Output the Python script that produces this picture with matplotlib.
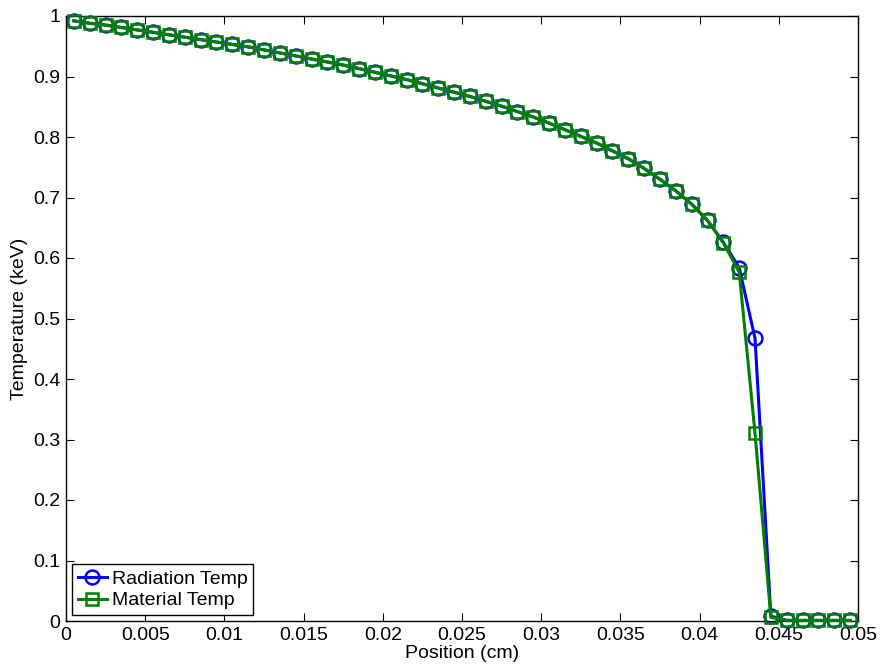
import matplotlib
matplotlib.use("Agg")
import matplotlib.pyplot as plt
import numpy as np

position = [0.0005 + 0.001 * i for i in range(50)]
radiation_temp = [0.992, 0.988, 0.985, 0.981, 0.977, 0.973, 0.969, 0.965, 0.961, 0.957,
                  0.953, 0.949, 0.944, 0.939, 0.934, 0.929, 0.924, 0.919, 0.913, 0.907,
                  0.901, 0.895, 0.888, 0.881, 0.874, 0.867, 0.859, 0.851, 0.842, 0.833,
                  0.823, 0.812, 0.801, 0.790, 0.777, 0.764, 0.748, 0.730, 0.711, 0.689,
                  0.662, 0.626, 0.584, 0.467, 0.008, 0.001, 0.001, 0.001, 0.001, 0.001]
material_temp = [0.992, 0.988, 0.985, 0.981, 0.977, 0.973, 0.969, 0.965, 0.961, 0.957,
                 0.953, 0.949, 0.944, 0.939, 0.934, 0.929, 0.924, 0.919, 0.913, 0.907,
                 0.901, 0.895, 0.888, 0.881, 0.874, 0.867, 0.859, 0.851, 0.842, 0.833,
                 0.823, 0.812, 0.801, 0.790, 0.777, 0.764, 0.748, 0.730, 0.711, 0.689,
                 0.662, 0.625, 0.577, 0.310, 0.006, 0.001, 0.001, 0.001, 0.001, 0.001]
xticks = [0, 0.005, 0.01, 0.015, 0.02, 0.025, 0.03, 0.035, 0.04, 0.045, 0.05]
xticklabels = ["0", "0.005", "0.01", "0.015", "0.02", "0.025", "0.03", "0.035", "0.04", "0.045", "0.05"]
yticks = [0, 0.1, 0.2, 0.3, 0.4, 0.5, 0.6, 0.7, 0.8, 0.9, 1]
yticklabels = ["0", "0.1", "0.2", "0.3", "0.4", "0.5", "0.6", "0.7", "0.8", "0.9", "1"]

plt.rcParams['font.family'] = ['Liberation Sans', 'DejaVu Sans']

fig = plt.figure(figsize=(8.81, 6.65), dpi=100)
ax = fig.add_axes([66 / 881, 1 - 621 / 665, 792 / 881, 605 / 665])

ax.plot(position, radiation_temp, color=(0, 0, 1), lw=2.2, marker='o', ms=10,
        mfc='none', mec=(0, 0, 1), mew=1.8, label='Radiation Temp', clip_on=False, zorder=3)
ax.plot(position, material_temp, color=(0, 0.5, 0), lw=2.2, marker='s', ms=8.5,
        mfc='none', mec=(0, 0.5, 0), mew=1.8, label='Material Temp', clip_on=False, zorder=4)

ax.set_xlim(0, 0.05)
ax.set_ylim(0, 1)
ax.set_xticks(xticks)
ax.set_xticklabels(xticklabels)
ax.set_yticks(yticks)
ax.set_yticklabels(yticklabels)
ax.tick_params(direction='in', length=6, width=0.8, top=True, right=True,
               labelsize=14, pad=4)
for s in ax.spines.values():
    s.set_linewidth(1.0)
ax.set_xlabel('Position (cm)', fontsize=14, labelpad=1)
ax.set_ylabel('Temperature (keV)', fontsize=14, labelpad=4)

leg = ax.legend(loc='lower left', fontsize=14, fancybox=False, framealpha=1,
                edgecolor='black', handlelength=1.5, borderaxespad=0.3,
                borderpad=0.3, labelspacing=0.2, handletextpad=0.25)
leg.get_frame().set_linewidth(1.0)

fig.savefig('out.png', dpi=100)
